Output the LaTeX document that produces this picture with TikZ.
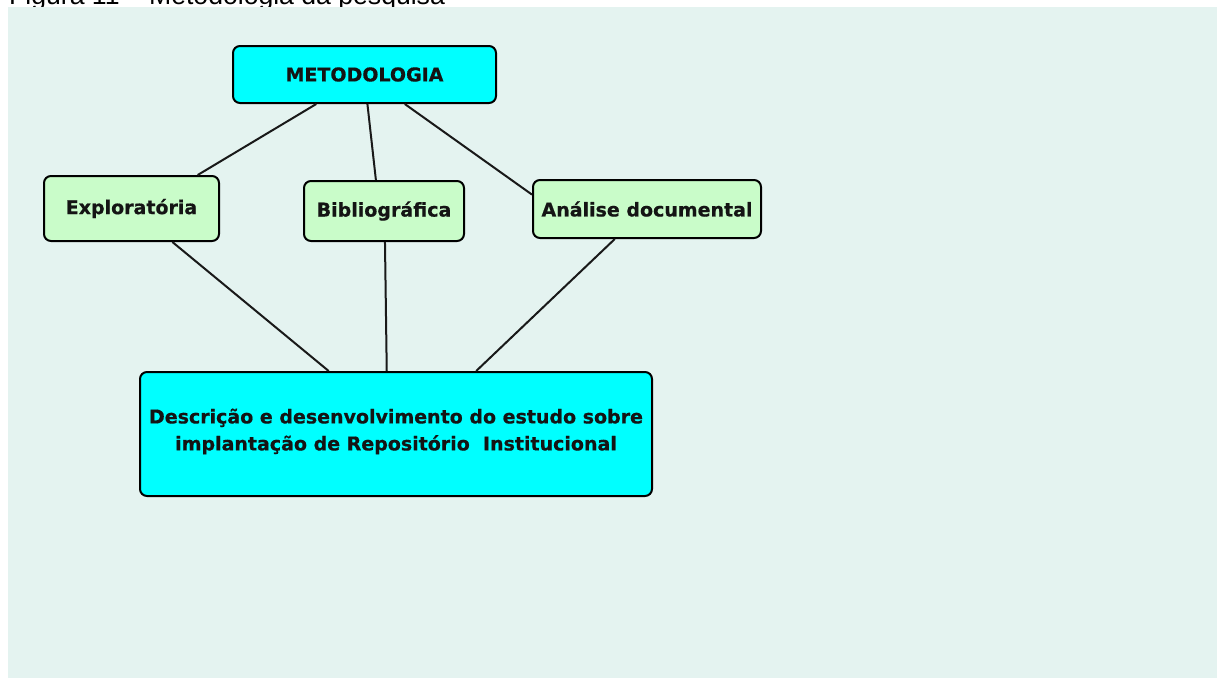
\documentclass[tikz,border=0pt]{standalone}
\usepackage{fontspec}
\setmainfont{DejaVu Sans}
\newfontfamily\labelfont{DejaVu Sans Bold}[FakeBold=0.6]
\newfontfamily\captionfont{Liberation Sans}
\usetikzlibrary{calc}
\definecolor{panelbg}{HTML}{E4F3F0}
\definecolor{boxcyan}{HTML}{00FFFF}
\definecolor{boxgreen}{HTML}{C9FCC9}
\tikzset{
  labeltext/.style={align=center, font=\labelfont\fontsize{19}{27}\selectfont, text=black!92},
  box/.style={draw=black, line width=2pt, rounded corners=7pt, inner sep=0pt, labeltext},
  topbox/.style={box, fill=boxcyan},
  leafbox/.style={box, fill=boxgreen},
  link/.style={draw=black!90, line width=2pt},
}
\begin{document}
\begin{tikzpicture}[x=1pt, y=-1pt]
  \useasboundingbox (0,0) rectangle (1217,678);
  % figure caption, partly hidden behind the panel
  \node[anchor=base west, inner sep=0pt, font=\captionfont\fontsize{26.6}{30}\selectfont]
    (cap) at (9,4.5) {Figura 11 – Metodologia da pesquisa};
  % panel
  \fill[panelbg] (8,7) rectangle (1217,678);

  % nodes
  \node[topbox, minimum width=263pt, minimum height=57pt] (met) at (364.5,74.5) {METODOLOGIA};
  \node[leafbox, minimum width=175pt, minimum height=65pt] (exp) at (131.5,208.5) {Exploratória};
  \node[leafbox, minimum width=160pt, minimum height=60pt] (bib) at (384,211) {Bibliográfica};
  \node[leafbox, minimum width=228pt, minimum height=58pt] (ana) at (647,209) {Análise documental};
  \node[topbox, minimum width=512pt, minimum height=124pt] (desc) at (396,434) {};
  \node[labeltext, inner sep=0pt] (desctext) at ([yshift=2.5pt]desc.center)
    {Descrição e desenvolvimento do estudo sobre\\implantação de Repositório\ \ Institucional};

  % connectors
  \draw[link] ($(met.south west)!0.318!(met.south east)$) -- ($(exp.north west)!0.874!(exp.north east)$);
  \draw[link] ($(met.south west)!0.511!(met.south east)$) -- ($(bib.north west)!0.45!(bib.north east)$);
  \draw[link] ($(met.south west)!0.652!(met.south east)$) -- ($(ana.north west)!0.26!(ana.south west)$);
  \draw[link] ($(exp.south west)!0.731!(exp.south east)$) -- ($(desc.north west)!0.369!(desc.north east)$);
  \draw[link] ($(bib.south west)!0.506!(bib.south east)$) -- ($(desc.north west)!0.482!(desc.north east)$);
  \draw[link] ($(ana.south west)!0.36!(ana.south east)$) -- ($(desc.north west)!0.656!(desc.north east)$);
\end{tikzpicture}
\end{document}
